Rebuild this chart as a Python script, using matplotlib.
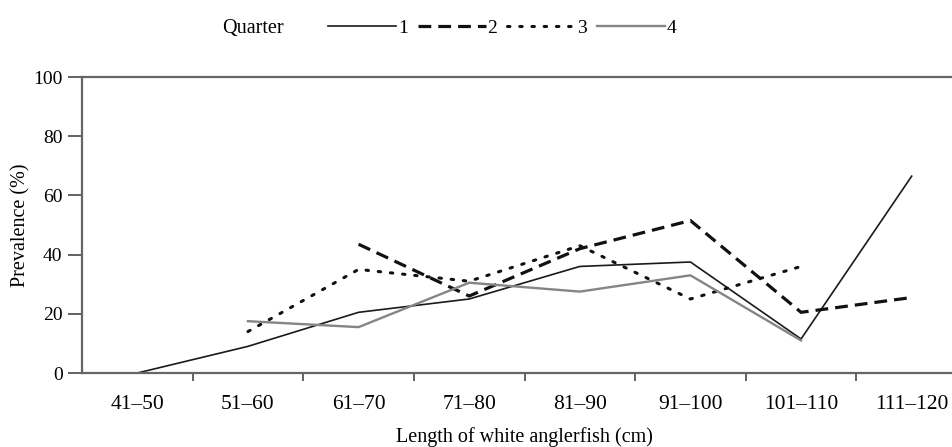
import numpy as np
import matplotlib
matplotlib.use("Agg")
import matplotlib.pyplot as plt

categories = ["41–50", "51–60", "61–70", "71–80", "81–90", "91–100", "101–110", "111–120"]
q1 = [0, 9, 20.5, 25, 36, 37.5, 11.5, 66.5]
q2 = [np.nan, np.nan, 43.5, 26, 42, 51.5, 20.5, 25.5]
q3 = [np.nan, 14, 35, 31, 43, 25, 36, np.nan]
q4 = [np.nan, 17.5, 15.5, 30.5, 27.5, 33, 11, np.nan]
labels = ["1", "2", "3", "4"]
yticks = [0, 20, 40, 60, 80, 100]

plt.rcParams['font.family'] = ['Liberation Serif', 'DejaVu Serif']

W, H = 952, 447
fig = plt.figure(figsize=(W/100, H/100), dpi=100)
ax = fig.add_axes([82/W, 1-373/H, 885/W, (373-77)/H])

x = np.arange(len(categories))
l1, = ax.plot(x, q1, color='#1a1a1a', lw=1.2, label=labels[0])
l2, = ax.plot(x, q2, color='#111111', lw=2.3, linestyle=(0, (4, 2.2)), label=labels[1])
l3, = ax.plot(x, q3, color='#111111', lw=2.2, linestyle=(0, (0.8, 3.2)), dash_capstyle='round', label=labels[2])
l4, = ax.plot(x, q4, color='#858585', lw=1.7, label=labels[3])

ax.set_xlim(-0.5, len(categories)-0.5)
ax.set_ylim(0, 100)
ax.set_xticks(x)
ax.set_xticklabels(categories, fontsize=15.5)
ax.set_xticks(np.arange(-0.5, len(categories), 1.0)[1:-1], minor=True)
ax.tick_params(axis='x', which='major', length=0, pad=16)
ax.tick_params(axis='x', which='minor', length=6, width=1.3, color='#555555', direction='out')
ax.set_yticks(yticks)
ax.set_yticklabels([str(v) for v in yticks], fontsize=14)
ax.tick_params(axis='y', length=10, width=1.3, color='#555555', direction='out', pad=4)

for s in ['left', 'bottom', 'top']:
    ax.spines[s].set_color('#666666')
    ax.spines[s].set_linewidth(1.6)
ax.spines['right'].set_visible(False)

ax.set_ylabel("Prevalence (%)", fontsize=14.5)
ax.yaxis.set_label_coords(-0.058, 0.5)
ax.set_xlabel("Length of white anglerfish (cm)", fontsize=14.5, labelpad=9)

fig.text(222/W, 1-28/H, "Quarter", fontsize=14.5, va='center', ha='left')
leg = fig.legend(handles=[l1, l2, l3, l4], loc='center left', bbox_to_anchor=(328/W, 1-28/H),
                 ncol=4, frameon=False, fontsize=14, handlelength=3.5, handletextpad=0.1,
                 columnspacing=0.5, borderaxespad=0, borderpad=0)

fig.savefig("out.png", dpi=100)
